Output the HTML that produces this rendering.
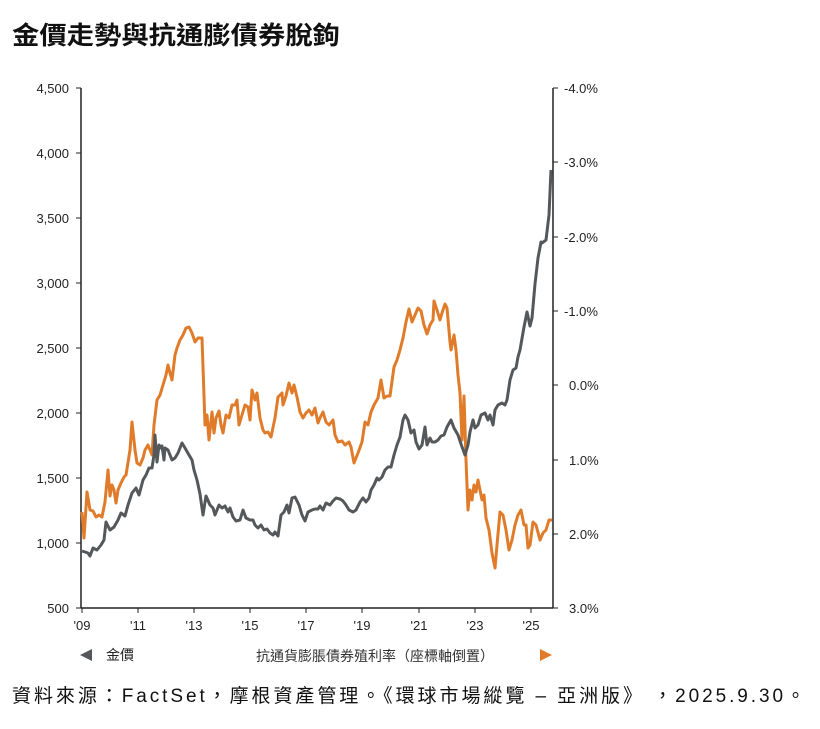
<!DOCTYPE html>
<html><head><meta charset="utf-8"><style>
body{margin:0;background:#fff;width:820px;height:724px;overflow:hidden;font-family:"Liberation Sans","Noto Sans CJK TC",sans-serif;}
</style></head><body>
<svg width="820" height="724" xmlns="http://www.w3.org/2000/svg" style="font-family:'Liberation Sans','Noto Sans CJK TC',sans-serif">
<text x="12" y="44" font-size="25" font-weight="bold" fill="#111" textLength="328" lengthAdjust="spacingAndGlyphs">金價走勢與抗通膨債券脫鉤</text>
<g stroke="#222" stroke-width="1.5" fill="none">
<line x1="81" y1="88" x2="81" y2="608"/>
<line x1="553" y1="88" x2="553" y2="608"/>
<line x1="81" y1="608" x2="553" y2="608"/>
</g>
<g stroke="#222" stroke-width="1">
<line x1="76" y1="88" x2="81" y2="88"/><line x1="76" y1="153" x2="81" y2="153"/><line x1="76" y1="218" x2="81" y2="218"/><line x1="76" y1="283" x2="81" y2="283"/><line x1="76" y1="348" x2="81" y2="348"/><line x1="76" y1="413" x2="81" y2="413"/><line x1="76" y1="478" x2="81" y2="478"/><line x1="76" y1="543" x2="81" y2="543"/><line x1="76" y1="608" x2="81" y2="608"/>
<line x1="553" y1="88" x2="558" y2="88"/><line x1="553" y1="162" x2="558" y2="162"/><line x1="553" y1="237" x2="558" y2="237"/><line x1="553" y1="311" x2="558" y2="311"/><line x1="553" y1="385" x2="558" y2="385"/><line x1="553" y1="460" x2="558" y2="460"/><line x1="553" y1="534" x2="558" y2="534"/><line x1="553" y1="608" x2="558" y2="608"/>
<line x1="82" y1="608" x2="82" y2="613"/><line x1="138" y1="608" x2="138" y2="613"/><line x1="194" y1="608" x2="194" y2="613"/><line x1="250" y1="608" x2="250" y2="613"/><line x1="306" y1="608" x2="306" y2="613"/><line x1="362" y1="608" x2="362" y2="613"/><line x1="419" y1="608" x2="419" y2="613"/><line x1="475" y1="608" x2="475" y2="613"/><line x1="531" y1="608" x2="531" y2="613"/>
</g>
<g font-size="13" fill="#222" text-anchor="end">
<text x="69" y="93">4,500</text><text x="69" y="158">4,000</text><text x="69" y="223">3,500</text><text x="69" y="288">3,000</text><text x="69" y="353">2,500</text><text x="69" y="418">2,000</text><text x="69" y="483">1,500</text><text x="69" y="548">1,000</text><text x="69" y="613">500</text>
</g>
<g font-size="13" fill="#222" text-anchor="start">
<text x="564" y="93">-4.0%</text><text x="564" y="167">-3.0%</text><text x="564" y="242">-2.0%</text><text x="564" y="316">-1.0%</text><text x="569" y="390">0.0%</text><text x="569" y="465">1.0%</text><text x="569" y="539">2.0%</text><text x="569" y="613">3.0%</text>
</g>
<g font-size="13" fill="#222" text-anchor="middle">
<text x="82" y="630">'09</text><text x="138" y="630">'11</text><text x="194" y="630">'13</text><text x="250" y="630">'15</text><text x="306" y="630">'17</text><text x="362" y="630">'19</text><text x="419" y="630">'21</text><text x="475" y="630">'23</text><text x="531" y="630">'25</text>
</g>
<polyline fill="none" stroke="#e07b2a" stroke-width="3" stroke-linejoin="round" points="82,512 84,538 87,492 90,510 93,511 96,517 99,515 102,517 105,502 108,470 110,496 112,485 114,490 116,503 118,490 121,483 124,477 126,475 130,450 132,422 135,450 137,463 140,465 143,458 145,450 148,445 152,455 154,425 157,400 160,395 163,385 166,375 168,365 170,373 172,380 175,355 177,348 180,340 183,335 186,328 189,327 192,333 195,342 198,338 202,338 205,425 207,415 209,440 212,412 214,433 216,418 219,411 221,425 223,433 226,415 229,418 232,405 235,405 237,400 239,425 242,415 245,405 248,407 250,420 252,390 255,400 257,393 260,418 263,430 265,433 268,432 271,437 275,418 278,397 282,393 283,405 286,396 289,383 292,393 294,385 297,397 300,412 303,418 306,413 309,410 312,415 315,408 318,423 320,418 323,412 326,422 329,425 333,420 335,435 338,442 342,441 345,445 349,442 351,447 354,463 358,453 362,442 365,422 368,425 371,412 374,405 378,398 381,380 384,398 387,396 390,396 394,367 397,360 400,350 403,338 406,322 409,309 412,322 415,315 418,308 421,311 424,325 427,334 430,325 433,320 434,301 437,310 440,320 442,313 445,304 447,308 450,342 451,350 454,335 456,350 458,375 460,393 462,440 464,396 466,460 468,510 470,490 472,500 474,485 476,492 478,480 480,490 482,500 484,495 486,518 489,530 492,553 495,568 497,545 500,512 503,515 506,530 509,550 512,540 515,525 518,515 521,510 524,525 526,525 528,548 530,545 533,522 536,525 540,540 543,533 546,530 549,520 552,520"/>
<polyline fill="none" stroke="#54585a" stroke-width="3" stroke-linejoin="round" points="82,551 88,553 90,556 93,548 97,550 101,545 104,540 106,522 110,530 114,527 118,520 121,513 125,516 128,505 132,493 136,488 139,495 143,480 146,475 149,468 152,468 154,455 155,435 157,462 159,445 161,448 162,446 164,460 165,448 168,450 172,460 175,458 178,453 182,443 185,448 189,455 192,460 194,470 197,480 200,494 203,515 206,496 210,505 213,508 215,515 219,505 222,508 225,506 228,512 230,508 233,517 236,521 240,520 243,510 246,518 250,520 253,520 255,525 258,528 261,525 264,530 267,529 270,533 273,535 275,532 278,536 281,515 284,512 287,505 289,513 292,498 295,497 299,505 302,515 305,521 308,512 312,510 315,509 318,509 320,506 323,510 326,503 330,505 333,501 336,498 340,499 343,501 346,505 349,510 353,512 356,510 360,502 363,498 366,502 369,498 371,490 374,485 377,478 379,480 382,477 385,470 388,467 391,467 394,455 397,445 400,437 403,420 405,415 408,420 411,433 414,430 416,442 419,449 422,445 425,427 427,445 430,438 432,442 435,442 438,440 441,436 444,435 447,427 451,420 454,428 458,435 461,444 465,455 468,445 470,432 473,420 475,428 478,425 481,415 485,413 488,420 490,415 493,425 495,410 498,405 502,403 505,405 507,400 510,380 513,370 516,368 518,357 520,350 524,327 527,312 530,326 532,318 535,284 538,258 541,242 542,243 546,240 549,215 551,170"/>
<polygon points="80,655 92,649 92,661" fill="#54585a"/>
<text x="106" y="660" font-size="14" fill="#222">金價</text>
<text x="256" y="661" font-size="14" fill="#333">抗通貨膨脹債券殖利率（座標軸倒置）</text>
<polygon points="552,655 540,649 540,661" fill="#e07b2a"/>
<text x="12" y="702" font-size="19" fill="#111" textLength="793" lengthAdjust="spacing">資料來源：FactSet，摩根資產管理。《環球市場縱覽 – 亞洲版》 ，2025.9.30。</text>
</svg>
</body></html>
